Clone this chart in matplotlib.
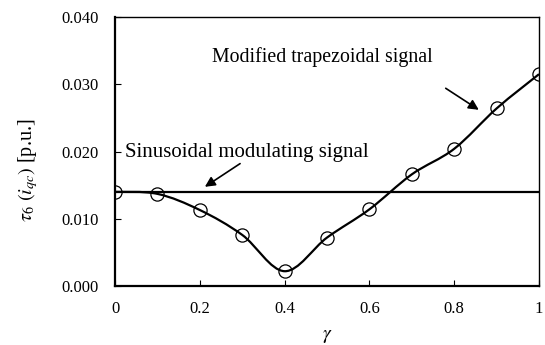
import numpy as np
import matplotlib
matplotlib.use("Agg")
import matplotlib.pyplot as plt
from matplotlib.path import Path
from matplotlib.patches import PathPatch

plt.rcParams['font.family'] = ['Liberation Serif', 'DejaVu Serif']
plt.rcParams['mathtext.fontset'] = 'stix'

gamma = [0.0, 0.1, 0.2, 0.3, 0.4, 0.5, 0.6, 0.7, 0.8, 0.9, 1.0]
trapezoidal = [0.0140, 0.0137, 0.0113, 0.0076, 0.0022, 0.0072, 0.0114, 0.0166, 0.0204, 0.0264, 0.0315]
sinusoidal_level = 0.0140
xticks = [0, 0.2, 0.4, 0.6, 0.8, 1.0]
xticklabels = ['0', '0.2', '0.4', '0.6', '0.8', '1']
yticks = [0.000, 0.010, 0.020, 0.030, 0.040]
yticklabels = ['0.000', '0.010', '0.020', '0.030', '0.040']

fig = plt.figure(figsize=(5.45, 3.45), dpi=100)
ax = fig.add_axes([115/545, 1 - 286/345, (539-115)/545, (286-17)/345])

# smooth (Bezier) line through the points, like a spreadsheet smoothed line
x = np.array(gamma); y = np.array(trapezoidal)
verts = [(x[0], y[0])]
codes = [Path.MOVETO]
n = len(x)
for i in range(n - 1):
    p0 = (x[i-1], y[i-1]) if i > 0 else (x[i], y[i])
    p1 = (x[i], y[i]); p2 = (x[i+1], y[i+1])
    p3 = (x[i+2], y[i+2]) if i + 2 < n else p2
    c1 = (p1[0] + (p2[0]-p0[0])/6, p1[1] + (p2[1]-p0[1])/6)
    c2 = (p2[0] - (p3[0]-p1[0])/6, p2[1] - (p3[1]-p1[1])/6)
    verts += [c1, c2, p2]
    codes += [Path.CURVE4]*3
ax.add_patch(PathPatch(Path(verts, codes), facecolor='none', edgecolor='black', lw=1.6, zorder=3))
ax.plot(gamma, trapezoidal, linestyle='none', marker='o', markersize=9.5,
        markerfacecolor='none', markeredgecolor='black', markeredgewidth=0.9, zorder=4)
ax.plot([gamma[0], gamma[-1]], [sinusoidal_level]*2, color='black', lw=1.6, zorder=2)

ax.set_xlim(0, 1)
ax.set_ylim(0, 0.040)
ax.set_xticks(xticks)
ax.set_xticklabels(xticklabels)
ax.set_yticks(yticks)
ax.set_yticklabels(yticklabels)
ax.tick_params(direction='in', length=4, width=0.8, labelsize=12)
ax.tick_params(axis='y', pad=11.5)
ax.tick_params(axis='x', pad=11)
for s in ax.spines.values():
    s.set_linewidth(1.0)
ax.spines['bottom'].set_linewidth(1.6)
ax.spines['left'].set_linewidth(1.6)

ax.set_xlabel(r'$\gamma$', fontsize=14, labelpad=8)
ax.set_ylabel(r'$\tau_6\ (i_{qc})$ [p.u.]', fontsize=14.5)
ax.yaxis.set_label_coords(-0.178, 0.43)

arrow_kw = dict(arrowstyle='-|>', color='black', lw=1.2, mutation_scale=15, shrinkA=0, shrinkB=0)
ax.text(0.023, 0.0199, 'Sinusoidal modulating signal', fontsize=15, va='center', ha='left')
ax.annotate('', xy=(0.212, 0.01475), xytext=(0.295, 0.0182), arrowprops=arrow_kw)
ax.annotate('', xy=(0.858, 0.0262), xytext=(0.78, 0.0294), arrowprops=arrow_kw)
ax.text(0.228, 0.0340, 'Modified trapezoidal signal', fontsize=14.3, va='center', ha='left')

fig.savefig('out.png', dpi=100)
